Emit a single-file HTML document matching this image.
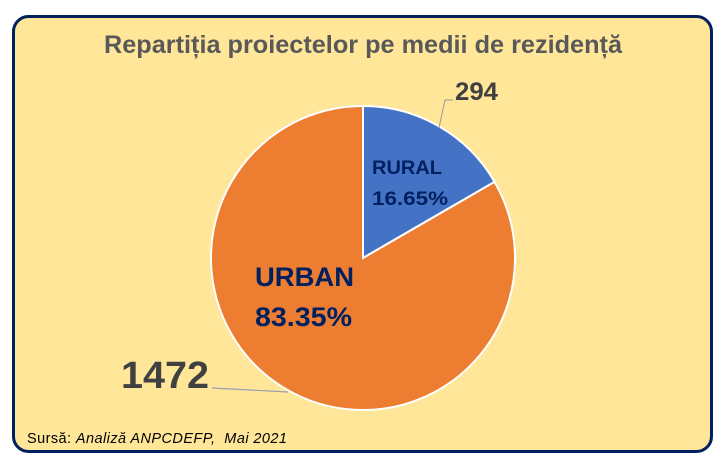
<!DOCTYPE html>
<html><head><meta charset="utf-8"><style>
html,body{margin:0;padding:0;background:#fff;}
svg{display:block;font-family:"Liberation Sans",sans-serif;}
</style></head><body>
<svg width="720" height="464" viewBox="0 0 720 464">
<rect x="13.5" y="16.5" width="698" height="435" rx="15" fill="#FFE699" stroke="#002060" stroke-width="3"/>
<text x="363" y="53" text-anchor="middle" font-size="25" font-weight="bold" fill="#595959" textLength="518" lengthAdjust="spacingAndGlyphs">Repartiția proiectelor pe medii de rezidență</text>
<g id="slices"></g>
<line x1="445" y1="100" x2="439" y2="128" stroke="#999" stroke-width="1"/>
<line x1="445" y1="100" x2="453" y2="100" stroke="#999" stroke-width="1"/>
<line x1="212" y1="388" x2="288" y2="392" stroke="#9aa0b0" stroke-width="1.2"/>
<text x="455" y="100" font-size="25" font-weight="bold" fill="#404040" textLength="43" lengthAdjust="spacingAndGlyphs">294</text>
<text x="121" y="388" font-size="38" font-weight="bold" fill="#404040" textLength="88" lengthAdjust="spacingAndGlyphs">1472</text>
<text x="372" y="174" font-size="19" font-weight="bold" fill="#002060" textLength="70" lengthAdjust="spacingAndGlyphs">RURAL</text>
<text x="372" y="205" font-size="19" font-weight="bold" fill="#002060" textLength="76" lengthAdjust="spacingAndGlyphs">16.65%</text>
<text x="255" y="286" font-size="27" font-weight="bold" fill="#002060" textLength="99" lengthAdjust="spacingAndGlyphs">URBAN</text>
<text x="255" y="326" font-size="27" font-weight="bold" fill="#002060" textLength="97" lengthAdjust="spacingAndGlyphs">83.35%</text>
<text x="27" y="443" font-size="14.5" fill="#000" textLength="260" lengthAdjust="spacing" xml:space="preserve">Sursă: <tspan font-style="italic">Analiză ANPCDEFP,  Mai 2021</tspan></text>
</svg>
<script>
const categories = ["RURAL","URBAN"];
const values = [294, 1472];
const colors = ["#4472C4","#ED7D31"];
const cx=363, cy=258, r=152;
const total = values.reduce((a,b)=>a+b,0);
const g=document.getElementById('slices');
let a0=0;
values.forEach((v,i)=>{
  const a1=a0+v/total*2*Math.PI;
  const x0=cx+r*Math.sin(a0), y0=cy-r*Math.cos(a0);
  const x1=cx+r*Math.sin(a1), y1=cy-r*Math.cos(a1);
  const large=(a1-a0)>Math.PI?1:0;
  const p=document.createElementNS('http://www.w3.org/2000/svg','path');
  p.setAttribute('d',`M${cx},${cy}L${x0},${y0}A${r},${r} 0 ${large} 1 ${x1},${y1}Z`);
  p.setAttribute('fill',colors[i]);
  p.setAttribute('stroke','#fff');
  p.setAttribute('stroke-width','2');
  
  
  g.appendChild(p);
  a0=a1;
});
</script>
</body></html>
